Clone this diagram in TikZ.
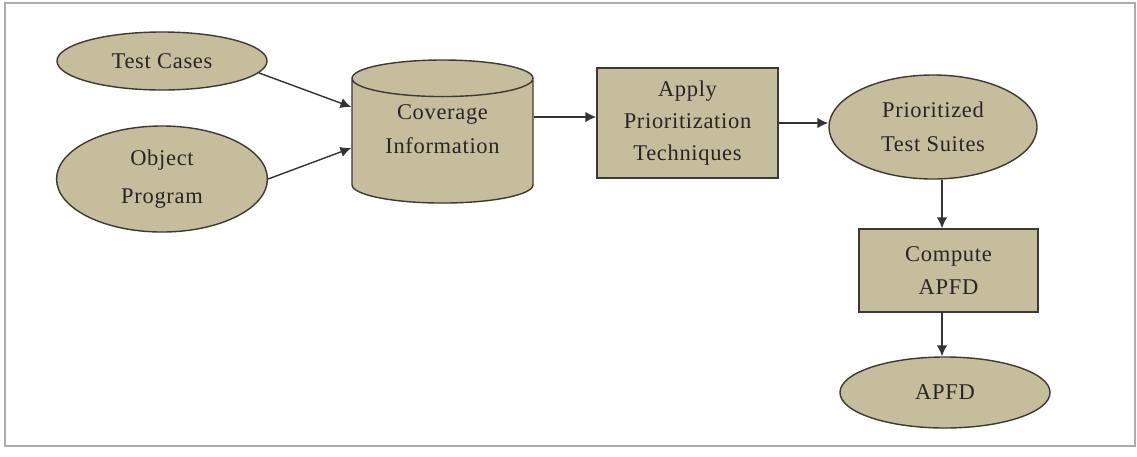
\documentclass[tikz,border=0pt]{standalone}
\usepackage{fontspec}
\setmainfont[LetterSpace=3]{Liberation Serif}
\usetikzlibrary{shapes.geometric,positioning,calc,arrows.meta}
\definecolor{tan}{RGB}{197,189,156}
\definecolor{inkgray}{RGB}{60,58,52}

\begin{document}
\begin{tikzpicture}[x=0.025cm,y=-0.025cm,
	every node/.style={font=\fontsize{16}{24}\selectfont,text=black!85,align=center},
	blob/.style={ellipse,draw=inkgray,fill=tan,line width=1pt,inner sep=0pt},
	stepbox/.style={rectangle,draw=inkgray,fill=tan,line width=1pt,inner sep=0pt},
	store/.style={cylinder,shape border rotate=90,aspect=0.32,draw=inkgray,fill=tan,line width=1pt,inner sep=0pt},
	flow/.style={-{Latex[length=2.7mm,width=2.6mm]},line width=1pt,draw=black!80}]
	\useasboundingbox (0,0) rectangle (1137,456);
	\draw[gray!65,line width=1.3pt] (5,3) rectangle (1135,446);
	% inputs
	\node[blob,minimum width=5.25cm,minimum height=1.45cm] (tc) at (162,61) {Test Cases};
	\node[blob,minimum width=5.27cm,minimum height=2.65cm,font=\fontsize{16}{27}\selectfont] (obj) at (162,179) {Object\\Program};
	% coverage store and processing
	\node[store,minimum width=4.525cm,minimum height=3.575cm,text depth=0.58cm] (cov) at (442.5,141) {Coverage\\Information};
	\node[stepbox,minimum width=4.525cm,minimum height=2.75cm,font=\fontsize{16}{22.7}\selectfont] (apply) at (687.5,123) {Apply\\Prioritization\\Techniques};
	\node[blob,minimum width=5.2cm,minimum height=2.6cm] (prio) at (933,127) {Prioritized\\Test Suites};
	\node[stepbox,minimum width=4.475cm,minimum height=2.075cm] (cmp) at (948.5,270.5) {Compute\\APFD};
	\node[blob,minimum width=5.25cm,minimum height=1.775cm] (apfd) at (945,392.5) {APFD};
	% connectors
	\draw[flow] (tc.-7) -- ($(cov.west)+(0,-34)$);
	\draw[flow] (obj.east) -- ($(cov.west)+(0,7)$);
	\coordinate (ain) at ($(apply.west)+(0,-6)$);
	\draw[flow] (cov.east |- ain) -- (ain);
	\draw[flow] (apply.east) -- (apply.east -| prio.west);
	\draw[flow] ($(prio.south)+(9,0)$) -- ($(cmp.north)+(-6.5,0)$);
	\draw[flow] ($(cmp.south)+(-6.5,0)$) -- ($(apfd.north)+(-3,0)$);
\end{tikzpicture}
\end{document}
